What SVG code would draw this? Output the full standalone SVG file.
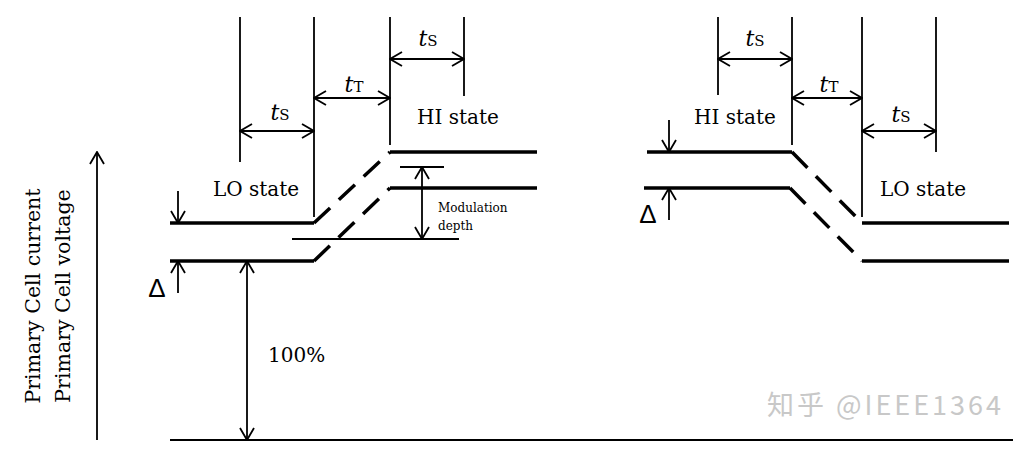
<svg xmlns="http://www.w3.org/2000/svg" width="1028" height="449" viewBox="0 0 1028 449">
<style>
.thin{stroke:#000;stroke-width:1.8;fill:none}
.thick{stroke:#000;stroke-width:3.5;fill:none;stroke-linecap:butt}
.dash{stroke:#000;stroke-width:3.5;fill:none;stroke-dasharray:22 12}
.arr{stroke:#000;stroke-width:1.8;fill:none;marker-end:url(#ah)}
.darr{stroke:#000;stroke-width:1.8;fill:none;marker-end:url(#ah);marker-start:url(#ah)}
.lbl{font-family:"DejaVu Serif","Liberation Serif",serif;font-size:20px;fill:#000}
.axis{font-family:"DejaVu Serif","Liberation Serif",serif;font-size:20.5px;fill:#000}
.delta{font-family:"Liberation Sans","DejaVu Sans",sans-serif;font-size:26px;fill:#000}
.t{font-family:"DejaVu Serif","Liberation Serif",serif;font-size:22px;font-style:italic;fill:#000}
.sub{font-style:normal;font-size:15px}
.small{font-family:"DejaVu Serif","Liberation Serif",serif;font-size:12px;fill:#000}
.wm{font-family:"Noto Sans CJK SC","Noto Sans",sans-serif;font-size:27px;fill:#c8c8c8}
</style>
<defs>
<marker id="ah" viewBox="0 0 14 16" refX="13" refY="8" markerWidth="14" markerHeight="16" markerUnits="userSpaceOnUse" orient="auto-start-reverse">
<path d="M1,1 L13,8 L1,15" stroke="#000" stroke-width="1.8" fill="none"/>
</marker>
</defs>
<g id="connectors">
<line class="thin" x1="240" y1="17" x2="240" y2="162"/>
<line class="thin" x1="314" y1="17" x2="314" y2="217"/>
<line class="thin" x1="390" y1="17" x2="390" y2="145"/>
<line class="thin" x1="464" y1="17" x2="464" y2="96"/>
<line class="darr" x1="240" y1="131" x2="314" y2="131"/>
<line class="darr" x1="314" y1="98" x2="390" y2="98"/>
<line class="darr" x1="390" y1="59" x2="464" y2="59"/>
<line class="thin" x1="718" y1="17" x2="718" y2="95"/>
<line class="thin" x1="792" y1="17" x2="792" y2="145"/>
<line class="thin" x1="862" y1="17" x2="862" y2="217"/>
<line class="thin" x1="936" y1="17" x2="936" y2="152"/>
<line class="darr" x1="718" y1="59" x2="792" y2="59"/>
<line class="darr" x1="792" y1="98" x2="862" y2="98"/>
<line class="darr" x1="862" y1="131" x2="936" y2="131"/>
<line class="thick" x1="170" y1="223" x2="314" y2="223"/>
<line class="dash" x1="314" y1="223" x2="390" y2="152"/>
<line class="thick" x1="390" y1="152" x2="537" y2="152"/>
<line class="thick" x1="170" y1="261" x2="314" y2="261"/>
<line class="dash" x1="314" y1="261" x2="390" y2="188"/>
<line class="thick" x1="390" y1="188" x2="537" y2="188"/>
<line class="thick" x1="647" y1="152" x2="792" y2="152"/>
<line class="dash" x1="792" y1="152" x2="862" y2="223"/>
<line class="thick" x1="862" y1="223" x2="1009" y2="223"/>
<line class="thick" x1="644" y1="188" x2="790" y2="188"/>
<line class="dash" x1="790" y1="188" x2="862" y2="261"/>
<line class="thick" x1="862" y1="261" x2="1009" y2="261"/>
<line class="thin" x1="400" y1="167" x2="444" y2="167"/>
<line class="thin" x1="292" y1="239" x2="459" y2="239"/>
<line class="darr" x1="422" y1="167" x2="422" y2="239"/>
<line class="arr" x1="178" y1="191" x2="178" y2="223"/>
<line class="arr" x1="178" y1="293" x2="178" y2="261"/>
<line class="arr" x1="669" y1="120" x2="669" y2="152"/>
<line class="arr" x1="669" y1="220" x2="669" y2="188"/>
<line class="darr" x1="247" y1="261" x2="247" y2="440"/>
<line class="thin" x1="170" y1="440" x2="1013" y2="440"/>
<line class="arr" x1="97" y1="440" x2="97" y2="152"/>
</g>
<g id="labels">
<text class="t" x="280" y="120" text-anchor="middle">t<tspan class="sub">S</tspan></text>
<text class="t" x="354" y="92" text-anchor="middle">t<tspan class="sub">T</tspan></text>
<text class="t" x="428" y="46" text-anchor="middle">t<tspan class="sub">S</tspan></text>
<text class="t" x="755" y="46" text-anchor="middle">t<tspan class="sub">S</tspan></text>
<text class="t" x="829" y="92" text-anchor="middle">t<tspan class="sub">T</tspan></text>
<text class="t" x="901" y="122" text-anchor="middle">t<tspan class="sub">S</tspan></text>
</g>
<g id="node-hi-left"><text class="lbl" x="417" y="124">HI state</text></g>
<g id="node-lo-left"><text class="lbl" x="213" y="196">LO state</text></g>
<g id="node-hi-right"><text class="lbl" x="694" y="124">HI state</text></g>
<g id="node-lo-right"><text class="lbl" x="880" y="196">LO state</text></g>
<g id="node-modulation"><text class="small" x="438" y="212">Modulation</text><text class="small" x="438" y="230">depth</text></g>
<g id="node-delta-left"><text class="delta" x="157" y="297" text-anchor="middle">Δ</text></g>
<g id="node-delta-right"><text class="delta" x="648" y="223" text-anchor="middle">Δ</text></g>
<g id="node-100"><text class="lbl" x="268" y="362">100%</text></g>
<g id="node-axis">
<text class="axis" transform="translate(40,296) rotate(-90)" text-anchor="middle">Primary Cell current</text>
<text class="axis" transform="translate(70,296) rotate(-90)" text-anchor="middle">Primary Cell voltage</text>
</g>
<g id="watermark"><text class="wm" x="767" y="415" textLength="234" lengthAdjust="spacing">知乎 @IEEE1364</text></g>
</svg>
